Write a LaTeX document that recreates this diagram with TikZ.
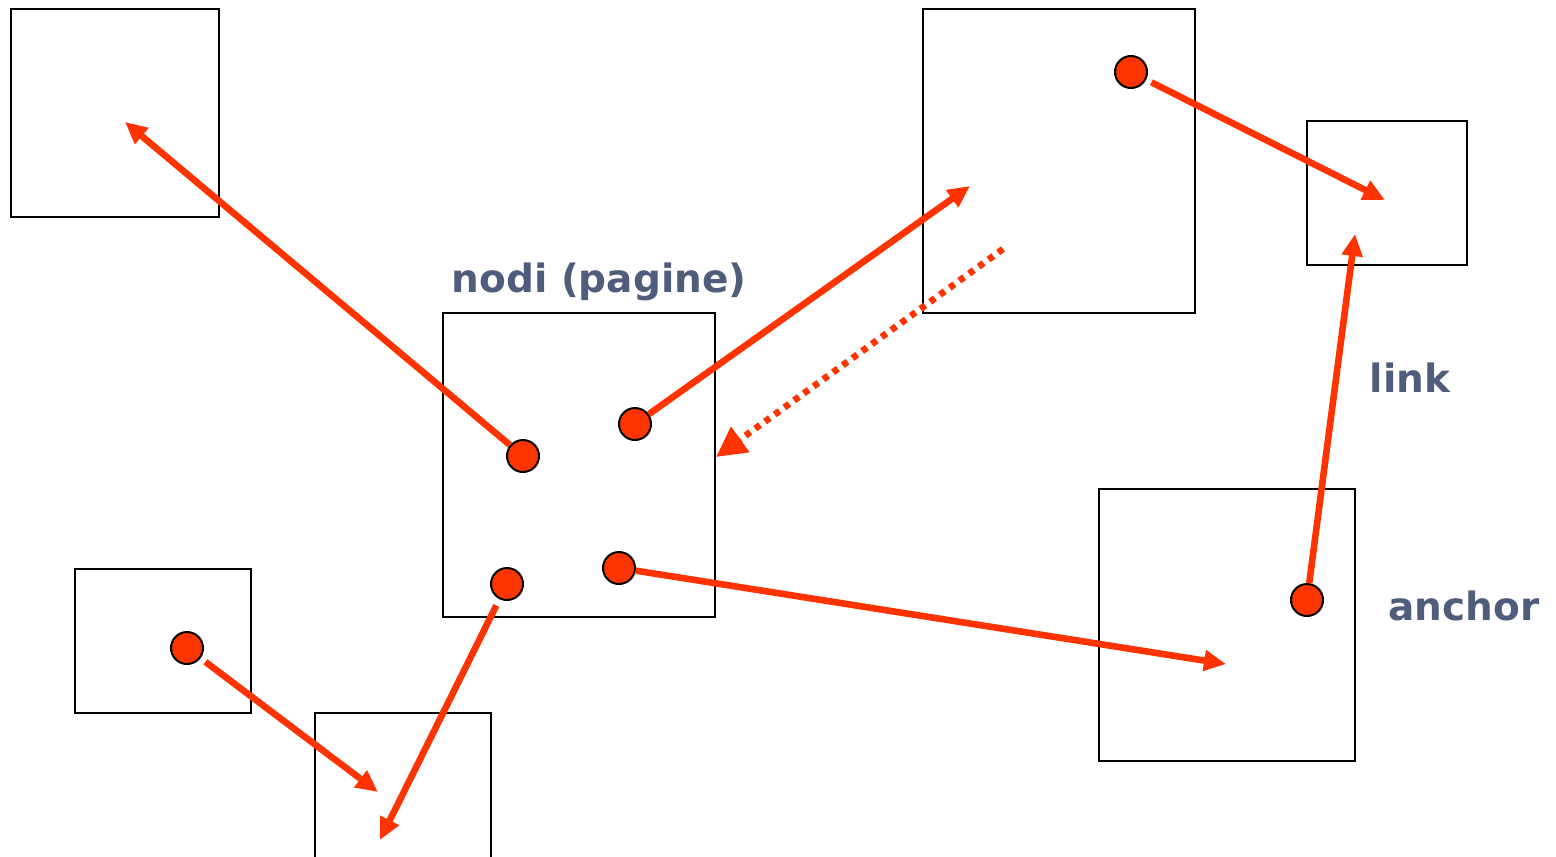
\documentclass[tikz,border=0pt]{standalone}
\usepackage{fontspec}
\setmainfont{DejaVu Sans}
\usetikzlibrary{arrows.meta}
\definecolor{ared}{HTML}{FF3300}
\definecolor{lbl}{HTML}{4F5D7C}
\tikzset{
  box/.style={draw=black, line width=1pt},
  dot/.style={circle, draw=black, line width=1pt, fill=ared, minimum size=16pt, inner sep=0pt},
  link/.style={draw=ared, line width=3.3pt, -{Triangle[length=11pt,width=10pt]}},
  backlink/.style={draw=ared, line width=3.3pt, dash pattern=on 3pt off 3pt, -{Triangle[length=15pt,width=15pt]}},
  lab/.style={text=lbl, font=\fontsize{19.5pt}{22pt}\selectfont\bfseries, anchor=base, inner sep=0pt}
}
\begin{document}
\begin{tikzpicture}[x=0.5pt,y=-0.5pt]
\useasboundingbox (0,0) rectangle (1556,856);
\clip (0,0) rectangle (1556,856);
\fill[white] (0,0) rectangle (1556,856);
% pages
\draw[box] (11,9) rectangle (219,217);
\draw[box] (923,9) rectangle (1195,313);
\draw[box] (1307,121) rectangle (1467,265);
\draw[box] (443,313) rectangle (715,617);
\draw[box] (75,569) rectangle (251,713);
\draw[box] (315,713) rectangle (491,900);
\draw[box] (1099,489) rectangle (1355,761);
% labels
\node[lab] (tnodi) at (599,292) {nodi (pagine)};
\node[lab] (tlink) at (1410,392) {link};
\node[lab] (tanchor) at (1464,620) {anchor};
% anchors
\node[dot] (c1) at (1131,72) {};
\node[dot] (c2) at (523,456) {};
\node[dot] (c3) at (635,424) {};
\node[dot] (c4) at (507,584) {};
\node[dot] (c5) at (619,568) {};
\node[dot] (c6) at (187,648) {};
\node[dot] (c7) at (1307,600) {};
% targets
\coordinate (t1) at (125,122);
\coordinate (t2) at (970,186);
\coordinate (t3) at (1385,200);
\coordinate (t4) at (1355,234);
\coordinate (t5) at (1226,664);
\coordinate (t6) at (380,840);
\coordinate (t7) at (378,792);
\coordinate (s8) at (1003,249);
\coordinate (t8) at (716,457);
% links
\draw[link] (c2) -- (t1);
\draw[link] (c3) -- (t2);
\draw[link, shorten <=3pt] (c1) -- (t3);
\draw[link] (c7) -- (t4);
\draw[link] (c5) -- (t5);
\draw[link, shorten <=3.5pt] (c4) -- (t6);
\draw[link, shorten <=3pt] (c6) -- (t7);
\draw[backlink] (s8) -- (t8);
\end{tikzpicture}
\end{document}
